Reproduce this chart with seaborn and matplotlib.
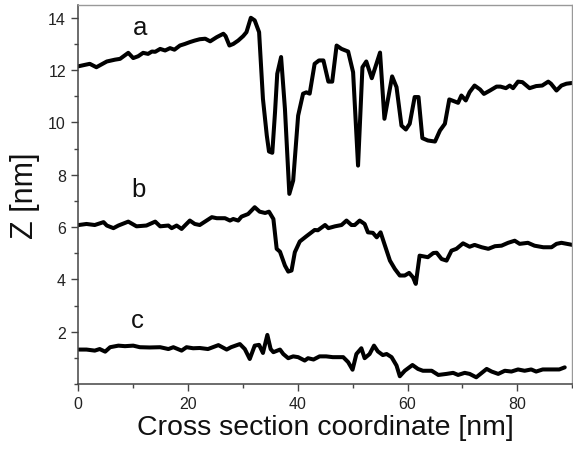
import pandas as pd
import matplotlib.pyplot as plt
import seaborn as sns
from matplotlib.ticker import MultipleLocator

# profile a
a_x = [0, 1.3, 2.2, 3.4, 4.0, 5.3, 6.8, 7.7, 9.2, 10.1, 11.0, 11.9, 12.8, 13.5, 14.1,
       15.0, 15.9, 16.8, 17.6, 18.6, 19.5, 20.4, 21.3, 22.2, 23.2, 24.1, 25.3, 26.5, 26.9,
       27.6, 28.3, 29.2, 30.1, 30.7, 31.5, 32.2, 33.0, 33.7, 34.4, 34.8, 35.4, 35.9, 36.3,
       37.0, 37.7, 38.5, 39.2, 40.1, 41.0, 41.6, 42.2, 43.1, 43.9, 44.7, 45.6, 46.3, 47.1,
       48.0, 49.2, 50.1, 51.0, 51.8, 52.5, 53.5, 55.0, 55.8, 57.2, 58.0, 58.9, 59.7, 60.4,
       61.3, 62.0, 62.7, 63.7, 65.0, 65.9, 66.8, 67.6, 68.6, 69.2, 69.8, 70.6, 71.3, 72.2,
       73.2, 73.9, 75.0, 76.2, 76.9, 77.9, 78.6, 79.2, 80.1, 80.9, 82.2, 83.4, 84.5, 85.6,
       86.1, 87.1, 88.0, 88.9, 90.0]
a_z = [12.14, 12.2, 12.24, 12.11, 12.18, 12.33, 12.4, 12.43, 12.66, 12.46, 12.53, 12.66,
       12.62, 12.71, 12.7, 12.81, 12.75, 12.84, 12.78, 12.94, 13.0, 13.07, 13.13, 13.18,
       13.2, 13.1, 13.26, 13.39, 13.3, 12.94, 13.0, 13.13, 13.3, 13.45, 14.0, 13.9, 13.45,
       10.9, 9.5, 8.89, 8.84, 10.4, 11.86, 12.5, 10.52, 7.27, 7.78, 10.26, 11.1, 11.15,
       11.1, 12.24, 12.37, 12.37, 11.56, 11.56, 12.94, 12.81, 12.71, 11.92, 8.35, 12.11,
       12.33, 11.69, 12.67, 10.14, 11.76, 11.35, 9.88, 9.73, 9.95, 10.97, 10.97, 9.4, 9.31,
       9.27, 9.69, 9.95, 10.88, 10.8, 10.75, 11.03, 10.84, 11.16, 11.41, 11.26, 11.09,
       11.22, 11.37, 11.37, 11.31, 11.41, 11.31, 11.56, 11.54, 11.31, 11.39, 11.41, 11.56,
       11.48, 11.22, 11.41, 11.48, 11.51]

# profile b
b_x = [0.2, 1.6, 3.1, 4.7, 5.3, 6.5, 7.4, 9.2, 10.7, 12.5, 14.1, 15.0, 16.5, 17.1, 18.0,
       18.9, 19.5, 20.4, 21.3, 22.2, 24.4, 25.3, 26.8, 27.7, 28.3, 29.2, 29.8, 31.0, 32.2,
       33.1, 34.1, 34.8, 35.6, 36.2, 36.8, 37.7, 38.3, 38.9, 39.5, 40.4, 41.6, 43.1, 43.7,
       45.0, 45.6, 46.8, 48.0, 48.9, 49.8, 50.4, 51.3, 52.2, 52.8, 53.7, 54.4, 55.1, 55.9,
       56.8, 57.7, 58.6, 59.5, 60.3, 61.0, 61.5, 62.2, 62.7, 63.7, 64.7, 65.3, 66.2, 67.1,
       68.0, 68.9, 70.1, 71.3, 72.2, 73.5, 74.7, 75.9, 77.1, 78.3, 79.5, 80.4, 81.9, 83.1,
       84.7, 86.2, 87.1, 88.0, 90.0]
b_z = [6.08, 6.12, 6.08, 6.19, 6.06, 5.96, 6.06, 6.21, 6.03, 6.06, 6.21, 6.03, 6.06, 5.96,
       6.06, 5.93, 6.06, 6.25, 6.12, 6.08, 6.38, 6.34, 6.34, 6.25, 6.31, 6.25, 6.4, 6.5,
       6.76, 6.59, 6.54, 6.59, 6.31, 5.17, 5.06, 4.53, 4.3, 4.34, 5.04, 5.45, 5.65, 5.89,
       5.88, 6.08, 5.96, 6.03, 6.08, 6.25, 6.08, 6.08, 6.25, 6.12, 5.8, 5.78, 5.61, 5.8,
       5.29, 4.72, 4.4, 4.15, 4.15, 4.25, 4.08, 3.83, 4.91, 4.89, 4.85, 5.01, 5.02, 4.78,
       4.72, 5.1, 5.17, 5.38, 5.25, 5.32, 5.23, 5.17, 5.27, 5.29, 5.4, 5.48, 5.36, 5.4,
       5.29, 5.23, 5.23, 5.36, 5.4, 5.32]

# profile c
c_x = [0.2, 1.6, 3.1, 4.0, 5.0, 5.9, 7.4, 8.6, 10.1, 11.3, 13.1, 15.0, 16.5, 17.4, 18.9,
       19.8, 21.0, 22.2, 23.7, 25.6, 27.1, 27.9, 29.5, 30.4, 31.3, 32.2, 33.0, 33.7, 34.5,
       35.1, 35.6, 36.8, 37.4, 38.3, 39.2, 40.1, 41.3, 41.9, 42.9, 44.0, 45.2, 46.4, 48.3,
       49.2, 50.0, 50.7, 51.6, 52.2, 53.1, 53.9, 54.6, 55.5, 56.2, 57.1, 58.0, 58.6, 59.5,
       60.9, 61.9, 62.8, 64.4, 65.6, 67.1, 68.3, 69.2, 70.4, 71.3, 72.5, 74.4, 75.3, 76.5,
       77.7, 78.9, 80.1, 81.3, 82.5, 83.4, 84.6, 86.4, 87.6, 88.6]
c_z = [1.32, 1.32, 1.28, 1.34, 1.24, 1.41, 1.47, 1.45, 1.47, 1.41, 1.4, 1.41, 1.34, 1.41,
       1.28, 1.41, 1.37, 1.38, 1.34, 1.49, 1.32, 1.41, 1.53, 1.34, 0.96, 1.47, 1.5, 1.19,
       1.88, 1.34, 1.22, 1.32, 1.15, 0.99, 1.06, 1.03, 0.9, 0.99, 0.94, 1.06, 1.06, 1.03,
       1.03, 0.84, 0.55, 1.15, 1.37, 0.99, 1.15, 1.47, 1.25, 1.11, 1.15, 1.03, 0.71, 0.3,
       0.51, 0.73, 0.58, 0.51, 0.51, 0.35, 0.39, 0.43, 0.35, 0.43, 0.39, 0.26, 0.58, 0.48,
       0.39, 0.51, 0.48, 0.56, 0.51, 0.56, 0.48, 0.56, 0.56, 0.56, 0.64]

labels = ["a", "b", "c"]
label_x = [11.3, 11.0, 10.8]
label_z = [13.39, 7.19, 2.18]

sns.set_style("ticks")
plt.rcParams["font.family"] = ["Liberation Sans", "DejaVu Sans"]

fig = plt.figure(figsize=(5.73, 4.52), dpi=100)
ax = fig.add_axes([0.1356, 0.148, 0.8634, 0.8394])

for xs, zs in [(a_x, a_z), (b_x, b_z), (c_x, c_z)]:
    df = pd.DataFrame({"x": xs, "z": zs})
    sns.lineplot(data=df, x="x", y="z", ax=ax, color="black", linewidth=2.9,
                 estimator=None, sort=False)

for t, lx, lz in zip(labels, label_x, label_z):
    ax.text(lx, lz, t, ha="center", va="baseline", fontsize=18.5, color="#111111")

ax.set_xlim(0, 90)
ax.set_ylim(0, 14.5)
ax.xaxis.set_major_locator(MultipleLocator(20))
ax.xaxis.set_minor_locator(MultipleLocator(10))
ax.set_yticks([2, 4, 6, 8, 10, 12, 14])
ax.yaxis.set_minor_locator(MultipleLocator(1))
ax.tick_params(which="major", direction="out", length=5, width=1, colors="#444444",
               labelsize=11.5, labelcolor="#222222")
ax.tick_params(which="minor", direction="out", length=3, width=1, colors="#444444")

for side in ["left", "bottom"]:
    ax.spines[side].set_color("#444444")
    ax.spines[side].set_linewidth(1.1)
for side in ["top", "right"]:
    ax.spines[side].set_color("#999999")
    ax.spines[side].set_linewidth(1.0)

ax.set_xlabel("Cross section coordinate [nm]", fontsize=20.5, color="#111111", labelpad=2)
ax.set_ylabel("Z [nm]", fontsize=22, color="#111111", labelpad=6)

fig.savefig("out.png", dpi=100)
